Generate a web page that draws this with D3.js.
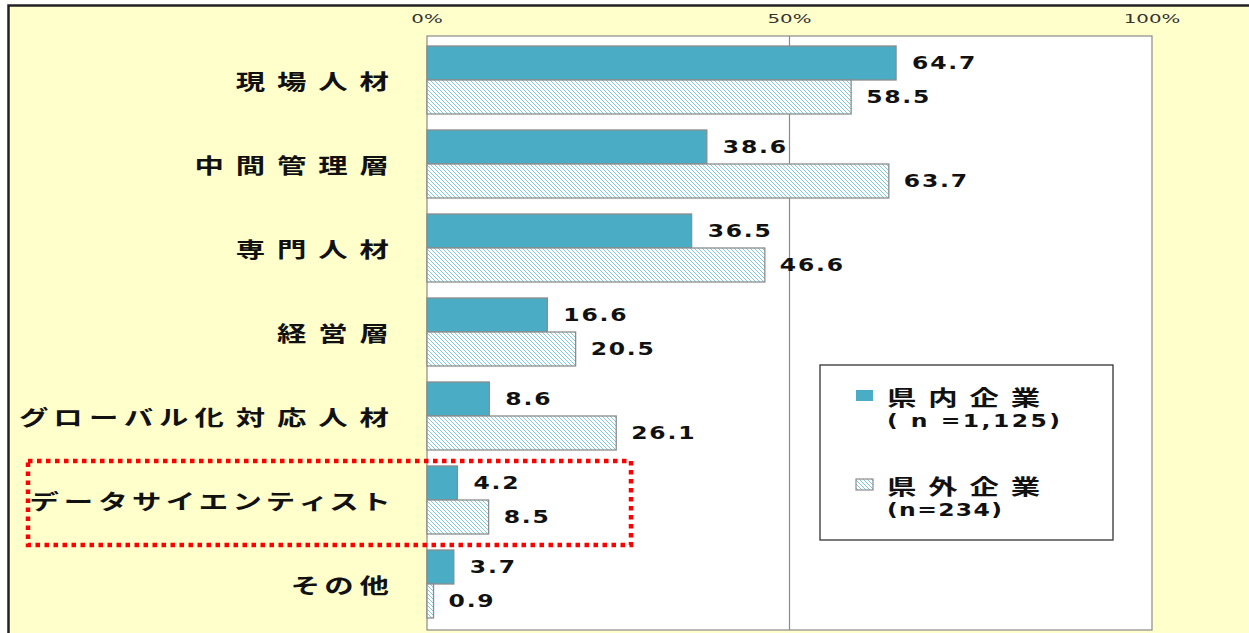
<!DOCTYPE html>
<html>
<head>
<meta charset="utf-8">
<script src="https://cdn.jsdelivr.net/npm/d3@7"></script>
<style>
  body { margin: 0; background: #fff; }
  svg { display: block; }
  .cjk { font-feature-settings: "palt"; }
</style>
</head>
<body>
<svg class="chart"></svg>
<script>
var categories = ['現場人材', '中間管理層', '専門人材', '経営層', 'グローバル化対応人材', 'データサイエンティスト', 'その他'];
var inPref = [64.7, 38.6, 36.5, 16.6, 8.6, 4.2, 3.7];
var outPref = [58.5, 63.7, 46.6, 20.5, 26.1, 8.5, 0.9];
var seriesNames = ['県内企業', '県外企業'];
var seriesNotes = ['( n =1,125)', '(n=234)'];
var ticks = [0, 50, 100];
var highlight = 'データサイエンティスト';

var width = 1249, height = 633;
var plot = { left: 427, right: 1152, top: 36, bottom: 627 };
var blue = '#4bacc6';

var svg = d3.select('.chart')
    .attr('width', width)
    .attr('height', height);

var defs = svg.append('defs');
var pat = defs.append('pattern')
    .attr('id', 'hatch')
    .attr('patternUnits', 'userSpaceOnUse')
    .attr('width', 4)
    .attr('height', 4);
pat.append('rect').attr('width', 4).attr('height', 4).attr('fill', '#fff');
pat.append('path')
    .attr('d', 'M0,0 L4,4 M-1,3 L1,5 M3,-1 L5,1')
    .attr('stroke', '#6cbfd5')
    .attr('stroke-width', 0.85);

// outer frame
svg.append('rect')
    .attr('x', 8.5).attr('y', 5.5)
    .attr('width', width + 20).attr('height', height + 20)
    .attr('fill', '#ffffcc')
    .attr('stroke', '#222')
    .attr('stroke-width', 2.5);

var x = d3.scaleLinear()
    .domain([0, 100])
    .range([plot.left, plot.right]);

var y = d3.scaleBand()
    .domain(categories)
    .range([plot.top, plot.bottom])
    .paddingInner(0.2)
    .paddingOuter(0.1)
    .round(true);

var half = Math.round(y.bandwidth() / 2);

// the picture is stretched sideways, so text gets a scale too
function stretched(sel, tx, ty, sx) {
  return sel.attr('transform', 'translate(' + tx + ',' + ty + ') scale(' + sx + ',1)');
}

// kana sit tighter than kanji in the original font
function spaced(sel) {
  sel.each(function(d) {
    var t = d3.select(this);
    var chars = t.text().split('');
    t.text(null);
    t.selectAll('tspan')
        .data(chars)
        .enter().append('tspan')
        .attr('letter-spacing', function(c, i) {
          if (i === chars.length - 1) return 0;
          return /[\u3040-\u30ff]/.test(c) ? 4.5 : 8.5;
        })
        .text(function(c) { return c; });
  });
}

// plot area
svg.append('rect')
    .attr('x', plot.left).attr('y', plot.top)
    .attr('width', plot.right - plot.left)
    .attr('height', plot.bottom - plot.top + 3)
    .attr('fill', '#fff')
    .attr('stroke', '#8a8a8a')
    .attr('stroke-width', 1.2);

svg.selectAll('.grid')
    .data(ticks.slice(1, -1))
    .enter().append('line')
    .attr('x1', function(d) { return x(d); })
    .attr('x2', function(d) { return x(d); })
    .attr('y1', plot.top)
    .attr('y2', plot.bottom + 3)
    .attr('stroke', '#8a8a8a')
    .attr('stroke-width', 1.2);

svg.selectAll('.tick')
    .data(ticks)
    .enter().append('text')
    .each(function(d) { stretched(d3.select(this), x(d), 23, 1.65); })
    .attr('text-anchor', 'middle')
    .attr('font-family', 'DejaVu Sans')
    .attr('font-size', 12)
    .attr('fill', '#333')
    .text(function(d) { return d + '%'; });

// bars
var rows = categories.map(function(c, i) { return { name: c, a: inPref[i], b: outPref[i] }; });

var bar = svg.selectAll('.bar')
    .data(rows)
    .enter().append('g')
    .attr('transform', function(d) { return 'translate(0,' + y(d.name) + ')'; });

bar.append('rect')
    .attr('x', x(0))
    .attr('y', 0)
    .attr('width', function(d) { return x(d.a) - x(0); })
    .attr('height', half)
    .attr('fill', blue)
    .attr('stroke', '#8c8c8c')
    .attr('stroke-width', 1.3);

bar.append('rect')
    .attr('x', x(0))
    .attr('y', half)
    .attr('width', function(d) { return x(d.b) - x(0); })
    .attr('height', half)
    .attr('fill', 'url(#hatch)')
    .attr('stroke', '#8c8c8c')
    .attr('stroke-width', 1.3);

var valueStyle = function(t) {
  t.attr('font-family', 'DejaVu Sans')
    .attr('font-weight', 'bold')
    .attr('font-size', 17)
    .attr('letter-spacing', 1.3)
    .attr('fill', '#111')
    .attr('dominant-baseline', 'central');
};

bar.append('text')
    .each(function(d) { stretched(d3.select(this), x(d.a) + 16, half / 2, 1.38); })
    .call(valueStyle)
    .text(function(d) { return d.a.toFixed(1); });

bar.append('text')
    .each(function(d) { stretched(d3.select(this), x(d.b) + 15, half * 1.5, 1.38); })
    .call(valueStyle)
    .text(function(d) { return d.b.toFixed(1); });

// category labels
var catStyle = function(t) {
  t.attr('class', 'cjk')
    .attr('font-family', '"Noto Sans CJK JP"')
    .attr('font-weight', 'bold')
    .attr('font-size', 21)
    .attr('fill', '#111')
    .attr('dominant-baseline', 'central');
};

svg.selectAll('.cat')
    .data(categories)
    .enter().append('text')
    .each(function(d) { stretched(d3.select(this), 389, y(d) + half - 1, 1.4); })
    .attr('text-anchor', 'end')
    .call(catStyle)
    .text(function(d) { return d; })
    .call(spaced);

// highlight box
svg.append('rect')
    .attr('x', 28)
    .attr('y', y(highlight) - 5)
    .attr('width', 603)
    .attr('height', y.bandwidth() + 17)
    .attr('fill', 'none')
    .attr('stroke', '#ff0000')
    .attr('stroke-width', 4.5)
    .attr('stroke-dasharray', '4.5,4.5');

// legend
var legend = svg.append('g');
legend.append('rect')
    .attr('x', 820).attr('y', 365)
    .attr('width', 293).attr('height', 175)
    .attr('fill', '#fff')
    .attr('stroke', '#333')
    .attr('stroke-width', 1.3);

var legendTop = [395, 484];
seriesNames.forEach(function(name, i) {
  legend.append('rect')
      .attr('x', 856).attr('y', legendTop[i] - 5)
      .attr('width', 17).attr('height', 11)
      .attr('fill', i === 0 ? blue : 'url(#hatch)')
      .attr('stroke', i === 0 ? 'none' : '#8c8c8c')
      .attr('stroke-width', 1.2);
  legend.append('text')
      .each(function() { stretched(d3.select(this), 887, legendTop[i], 1.4); })
      .call(catStyle)
      .text(name)
      .call(spaced);
  legend.append('text')
      .each(function() { stretched(d3.select(this), 887, legendTop[i] + 26, 1.38); })
      .call(valueStyle)
      .attr('letter-spacing', i === 0 ? 1.8 : 1)
      .text(seriesNotes[i]);
});
</script>
</body>
</html>
